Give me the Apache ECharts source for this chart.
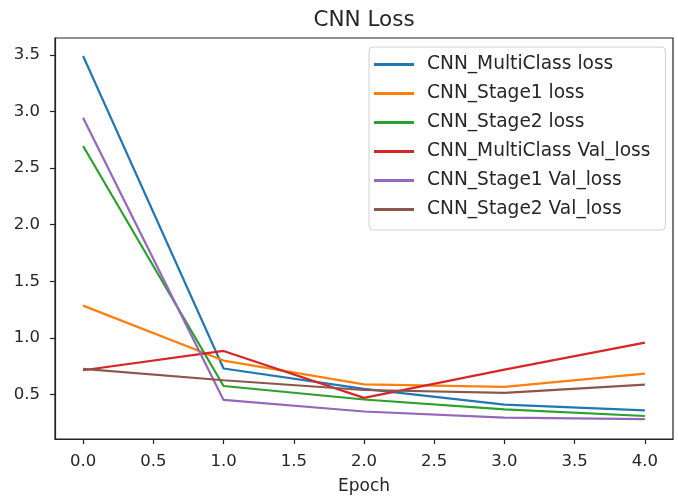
<!DOCTYPE html>
<html>
<head>
<meta charset="utf-8">
<script src="https://cdn.jsdelivr.net/npm/echarts@6/dist/echarts.min.js"></script>
<style>html,body{margin:0;padding:0;background:#fff}#c{width:678px;height:500px}</style>
</head>
<body>
<div id="c"></div>
<script>
const epochs = [0, 1, 2, 3, 4];
const mcLoss = [3.49, 0.73, 0.55, 0.41, 0.36];
const s1Loss = [1.285, 0.80, 0.59, 0.567, 0.685];
const s2Loss = [2.695, 0.575, 0.456, 0.368, 0.31];
const mcVal  = [0.714, 0.885, 0.47, 0.72, 0.958];
const s1Val  = [2.944, 0.452, 0.35, 0.295, 0.283];
const s2Val  = [0.727, 0.626, 0.54, 0.515, 0.587];
const seriesNames = ['CNN_MultiClass loss','CNN_Stage1 loss','CNN_Stage2 loss','CNN_MultiClass Val_loss','CNN_Stage1 Val_loss','CNN_Stage2 Val_loss'];
const seriesData = [mcLoss, s1Loss, s2Loss, mcVal, s1Val, s2Val];
const colors = ['#1f77b4','#ff7f0e','#2ca02c','#d62728','#9467bd','#8c564b'];
const xTicks = [0, 0.5, 1, 1.5, 2, 2.5, 3, 3.5, 4];
const yTicks = [0.5, 1, 1.5, 2, 2.5, 3, 3.5];
const FONT = 'DejaVu Sans';
const TXT = '#262626';

const chart = echarts.init(document.getElementById('c'), null, {renderer: 'canvas'});
chart.setOption({
  animation: false,
  backgroundColor: '#fff',
  color: colors,
  title: {
    text: 'CNN Loss', left: 364, top: 9, textAlign: 'center', padding: 0,
    textStyle: {fontFamily: FONT, fontSize: 21.5, fontWeight: 'normal', color: TXT}
  },
  grid: {left: 55, top: 38, width: 618, height: 403, show: true, borderColor: '#222', borderWidth: 1.2, containLabel: false},
  legend: {
    orient: 'vertical', left: 369, top: 47,
    itemWidth: 40, itemHeight: 3, itemGap: 10, icon: 'rect',
    padding: [8, 15, 11, 5],
    borderColor: '#d0d0d0', borderWidth: 1, borderRadius: 4, backgroundColor: 'rgba(255,255,255,0.8)',
    textStyle: {fontFamily: FONT, fontSize: 18.6, color: TXT, lineHeight: 18, padding: [0, 0, 0, 8]},
    data: seriesNames
  },
  xAxis: {
    type: 'value', min: -0.2, max: 4.2,
    name: 'Epoch', nameLocation: 'middle', nameGap: 39,
    nameTextStyle: {fontFamily: FONT, fontSize: 17, color: TXT},
    axisLine: {show: true, onZero: false, lineStyle: {color: '#222', width: 1.2}},
    axisTick: {show: true, length: 5, lineStyle: {color: '#222', width: 1.2}, customValues: xTicks},
    axisLabel: {fontFamily: FONT, fontSize: 16.5, color: TXT, margin: 14, customValues: xTicks, formatter: v => v.toFixed(1)},
    splitLine: {show: false}
  },
  yAxis: {
    type: 'value', min: 0.107, max: 3.649,
    axisLine: {show: true, onZero: false, lineStyle: {color: '#222', width: 1.2}},
    axisTick: {show: true, length: 5, lineStyle: {color: '#222', width: 1.2}, customValues: yTicks},
    axisLabel: {fontFamily: FONT, fontSize: 16.5, color: TXT, margin: 15, customValues: yTicks, formatter: v => v.toFixed(1)},
    splitLine: {show: false}
  },
  series: seriesNames.map((n, i) => ({
    name: n, type: 'line', symbol: 'none', showSymbol: false,
    lineStyle: {width: 2.2, color: colors[i]},
    itemStyle: {color: colors[i]},
    data: epochs.map((e, j) => [e, seriesData[i][j]])
  }))
});
</script>
</body>
</html>
